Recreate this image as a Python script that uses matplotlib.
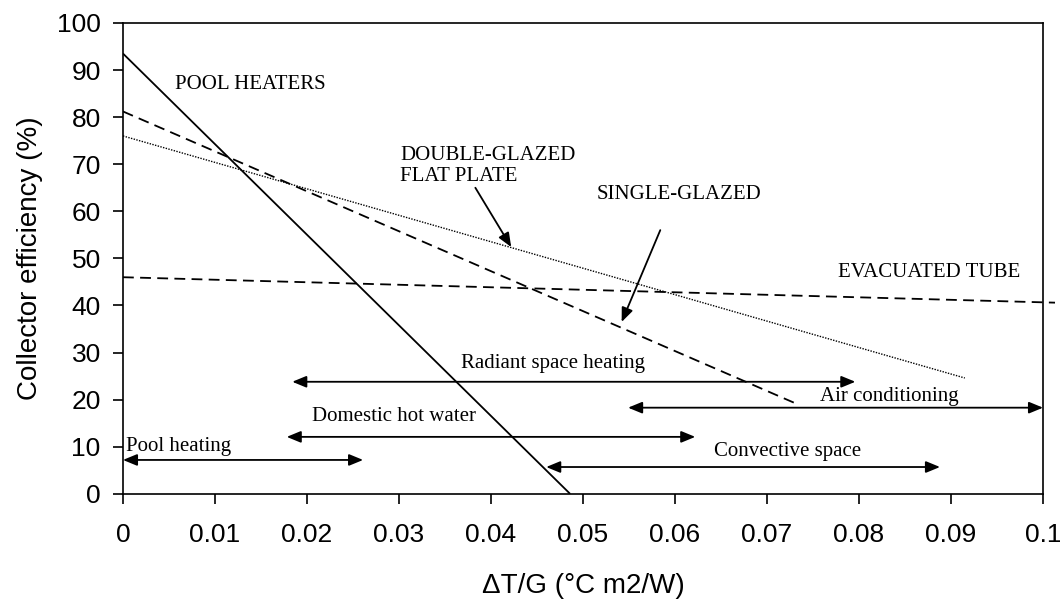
import matplotlib.pyplot as plt

# Collector efficiency lines (end points)
pool_x = [0.0, 0.0486]
pool_y = [93.5, 0.0]
single_x = [0.0, 0.0730]
single_y = [81.2, 19.3]
double_x = [0.0, 0.0915]
double_y = [76.0, 24.6]
evac_x = [0.0, 0.1013]
evac_y = [46.0, 40.6]

# Application ranges: arrow extent, arrow height, label position
range_names = ["Pool heating", "Domestic hot water", "Radiant space heating",
               "Air conditioning", "Convective space"]
range_start = [0.0, 0.0178, 0.0184, 0.0549, 0.0460]
range_end = [0.0261, 0.0622, 0.0796, 0.1000, 0.0888]
range_y = [7.2, 12.1, 23.8, 18.3, 5.7]
range_label_x = [0.0003, 0.0295, 0.0467, 0.0833, 0.0722]
range_label_y = [10.0, 16.4, 27.6, 20.7, 8.9]

x_ticks = [0, 0.01, 0.02, 0.03, 0.04, 0.05, 0.06, 0.07, 0.08, 0.09, 0.1]
x_tick_labels = ["0", "0.01", "0.02", "0.03", "0.04", "0.05", "0.06",
                 "0.07", "0.08", "0.09", "0.1"]
y_ticks = [0, 10, 20, 30, 40, 50, 60, 70, 80, 90, 100]

serif = "Liberation Serif"
sans = "Liberation Sans"

fig = plt.figure(figsize=(10.6, 6.03), dpi=100)
ax = fig.add_axes([0.116, 0.181, 0.868, 0.781])

ax.plot(pool_x, pool_y, color="black", lw=1.3, solid_capstyle="butt")
ax.plot(single_x, single_y, color="black", lw=1.3, linestyle=(0, (6, 3.5)))
ax.plot(double_x, double_y, color="black", lw=1.0, linestyle=(0, (1, 1)))
ax.plot(evac_x, evac_y, color="black", lw=1.3, linestyle=(0, (6, 3.5)), clip_on=False)

# Double headed arrows for application ranges
for name, x0, x1, yy, lx, ly in zip(range_names, range_start, range_end, range_y,
                                     range_label_x, range_label_y):
    ax.annotate("", xy=(x1, yy), xytext=(x0, yy), annotation_clip=False,
                arrowprops=dict(arrowstyle="<|-|>,head_length=0.85,head_width=0.35",
                                mutation_scale=10, color="black", lw=1.3,
                                shrinkA=0, shrinkB=0))
    ha = "left" if name == "Pool heating" else "center"
    ax.text(lx, ly, name, family=serif, fontsize=15, ha=ha, va="center")

# Collector type labels
ax.text(0.0057, 87.0, "POOL HEATERS", family=serif, fontsize=15, va="center")
ax.text(0.0301, 69.6, "DOUBLE-GLAZED\nFLAT PLATE", family=serif, fontsize=15,
        va="center", linespacing=1.15)
ax.text(0.0515, 63.5, "SINGLE-GLAZED", family=serif, fontsize=15, va="center")
ax.text(0.0777, 47.1, "EVACUATED TUBE", family=serif, fontsize=15, va="center")

arrow_style = dict(arrowstyle="-|>,head_length=0.85,head_width=0.35",
                   mutation_scale=10, color="black", lw=1.3, shrinkA=0, shrinkB=0)
ax.annotate("", xy=(0.0422, 52.4), xytext=(0.0383, 65.0), arrowprops=arrow_style)
ax.annotate("", xy=(0.0542, 36.5), xytext=(0.0584, 56.0), arrowprops=arrow_style)

ax.set_xlim(0, 0.1)
ax.set_ylim(0, 100)
ax.set_xticks(x_ticks)
ax.set_xticklabels(x_tick_labels)
ax.set_yticks(y_ticks)
for spine in ax.spines.values():
    spine.set_linewidth(1.2)
ax.tick_params(direction="out", length=7, width=1.2, labelsize=19)
ax.tick_params(axis="x", pad=14)
ax.tick_params(axis="y", pad=9)
for lab in ax.get_xticklabels() + ax.get_yticklabels():
    lab.set_family(sans)

ax.set_xlabel("\u0394T/G (\u00b0C m2/W)", family=sans, fontsize=20, labelpad=19)
ax.set_ylabel("Collector efficiency (%)", family=sans, fontsize=20, labelpad=10)

fig.savefig("out.png", dpi=100)
